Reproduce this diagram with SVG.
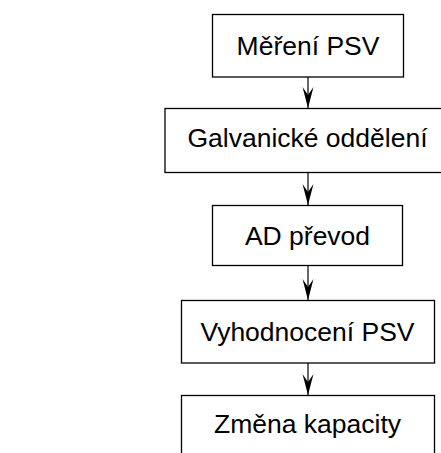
<svg xmlns="http://www.w3.org/2000/svg" width="441" height="453" viewBox="0 0 441 453">
<defs>
<style>
.box{fill:#fff;stroke:#000;stroke-width:1.3}
.lbl{font-family:"Liberation Sans",Arial,sans-serif;font-size:26.5px;fill:#000;text-anchor:middle}
.con{stroke:#000;stroke-width:1.2;fill:none}
</style>
<marker id="ah" markerWidth="21" markerHeight="11" refX="21" refY="5.5" orient="auto" markerUnits="userSpaceOnUse" viewBox="0 0 21 11" overflow="visible">
<path d="M0,0 L21,5.5 L0,11 L8,5.5 Z" fill="#000"/>
</marker>
</defs>
<rect width="441" height="453" fill="#fff"/>
<g id="connectors">
<line class="con" x1="308" y1="77" x2="308" y2="108" marker-end="url(#ah)"/>
<line class="con" x1="308" y1="172" x2="308" y2="205" marker-end="url(#ah)"/>
<line class="con" x1="308" y1="265" x2="308" y2="300" marker-end="url(#ah)"/>
<line class="con" x1="308" y1="363" x2="308" y2="395" marker-end="url(#ah)"/>
</g>
<g id="n1"><rect class="box" x="212.5" y="14.5" width="191" height="62.5"/><text class="lbl" x="308" y="55">Měření PSV</text></g>
<g id="n2"><rect class="box" x="165" y="108.5" width="290" height="64"/><text class="lbl" x="307.5" y="147">Galvanické oddělení</text></g>
<g id="n3"><rect class="box" x="212.5" y="205.5" width="190" height="60"/><text class="lbl" x="307.5" y="245">AD převod</text></g>
<g id="n4"><rect class="box" x="181.5" y="300.5" width="253" height="62.5"/><text class="lbl" x="307.5" y="341">Vyhodnocení PSV</text></g>
<g id="n5"><rect class="box" x="181.5" y="395.5" width="253" height="70"/><text class="lbl" x="307.5" y="433">Změna kapacity</text></g>
</svg>
